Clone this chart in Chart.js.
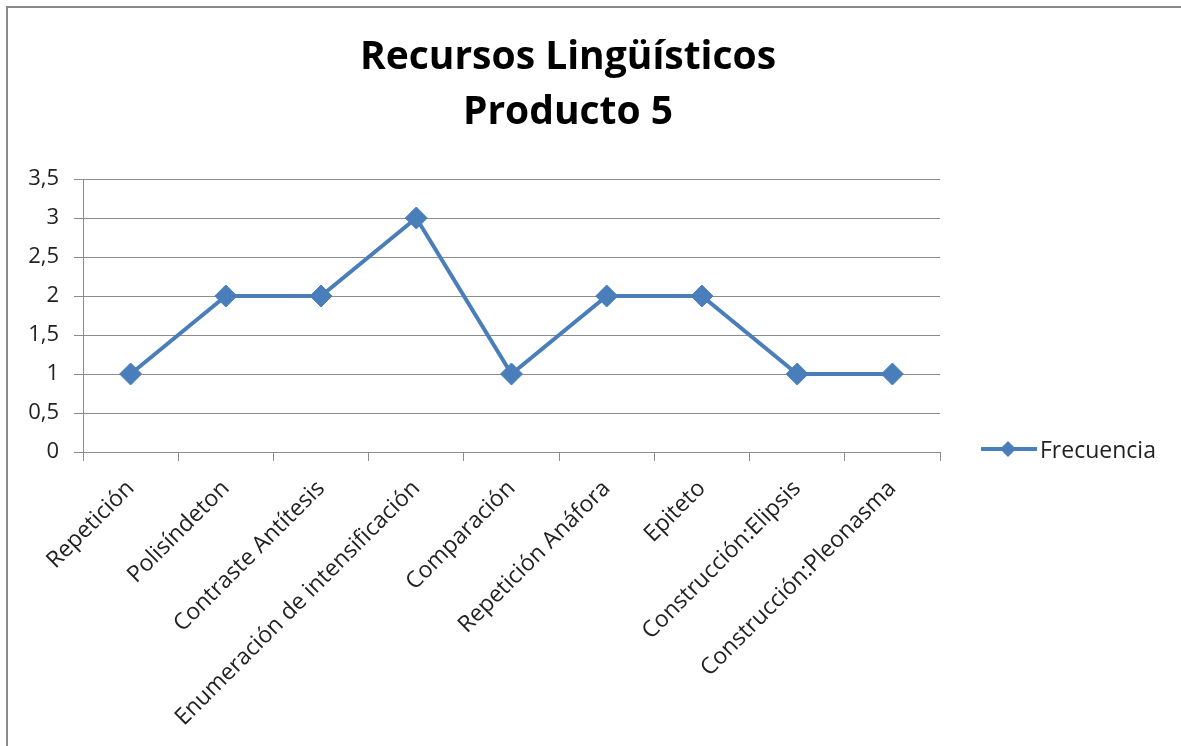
<!DOCTYPE html>
<html>
<head>
<meta charset="utf-8">
<script src="https://cdn.jsdelivr.net/npm/chart.js@4/dist/chart.umd.min.js"></script>
<style>
  html, body { margin: 0; padding: 0; background: #fff; overflow: hidden; width: 1181px; height: 746px; }
  #marco { position: absolute; left: 6px; top: 6px; width: 1400px; height: 900px;
           border-top: 2px solid #8a8a8a; border-left: 2px solid #8a8a8a; }
  #grafico { position: absolute; left: 0; top: 0; }
  #leyenda { position: absolute; left: 980px; top: 436px; height: 26px; display: flex; align-items: center;
             font-family: "Open Sans", sans-serif; font-size: 23px; color: #222; }
  #leyenda svg { margin-right: 2px; }
</style>
</head>
<body>
<div id="marco"></div>
<canvas id="grafico" width="1136" height="746"></canvas>
<div id="leyenda">
  <svg width="58" height="26"><line x1="1" y1="13" x2="57" y2="13" stroke="#4a7ebb" stroke-width="4"/>
    <polygon points="28,5 36,13 28,21 20,13" fill="#4a7ebb"/></svg>
  <span>Frecuencia</span>
</div>
<script>
// datos del gráfico
const titulo = ['Recursos Lingüísticos', 'Producto 5'];
const categorias = ['Repetición', 'Polisíndeton', 'Contraste Antítesis', 'Enumeración de intensificación',
  'Comparación', 'Repetición Anáfora', 'Epiteto', 'Construcción:Elipsis', 'Construcción:Pleonasma'];
const frecuencia = [1, 2, 2, 3, 1, 2, 2, 1, 1];
const serieNombre = 'Frecuencia';
const ejeMin = 0;
const ejeMax = 3.5;
const ejePaso = 0.5;

const azul = '#4a7ebb';
const gris = '#8c8c8c';
const fuente = '"Open Sans", sans-serif';

const ctx = document.getElementById('grafico').getContext('2d');
new Chart(ctx, {
  type: 'line',
  data: {
    labels: categorias,
    datasets: [{
      label: serieNombre,
      data: frecuencia,
      borderColor: azul,
      backgroundColor: azul,
      borderWidth: 4,
      tension: 0,
      pointStyle: 'rectRot',
      pointRadius: 11,
      pointBorderWidth: 1,
      pointBackgroundColor: azul,
      pointBorderColor: azul
    }]
  },
  options: {
    responsive: false,
    animation: false,
    layout: { padding: 0 },
    plugins: {
      legend: { display: false },
      tooltip: { enabled: false },
      title: {
        display: true,
        text: titulo,
        color: '#000',
        font: { family: fuente, size: 39, weight: 'bold', lineHeight: '55px' },
        padding: { top: 30, bottom: 39 }
      }
    },
    scales: {
      x: {
        offset: true,
        grid: { display: true, drawOnChartArea: false, drawTicks: true, tickLength: 9, offset: true, color: gris },
        border: { display: true, color: gris, width: 1 },
        ticks: {
          autoSkip: false, minRotation: 45, maxRotation: 45,
          color: '#222', font: { family: fuente, size: 23 }, padding: 14
        },
        afterFit: s => { s.height = 746 - 452; }
      },
      y: {
        min: ejeMin,
        max: ejeMax,
        ticks: {
          stepSize: ejePaso,
          color: '#222',
          font: { family: fuente, size: 22 },
          padding: 15,
          callback: v => String(v).replace('.', ',')
        },
        grid: { color: gris, tickLength: 9 },
        border: { display: true, color: gris, width: 1 },
        afterFit: s => { s.width = 83; }
      },
      derecha: {
        type: 'linear',
        position: 'right',
        display: true,
        grid: { display: false },
        border: { display: false },
        ticks: { display: false },
        afterFit: s => { s.width = 1136 - 940; }
      }
    }
  }
});
</script>
</body>
</html>
